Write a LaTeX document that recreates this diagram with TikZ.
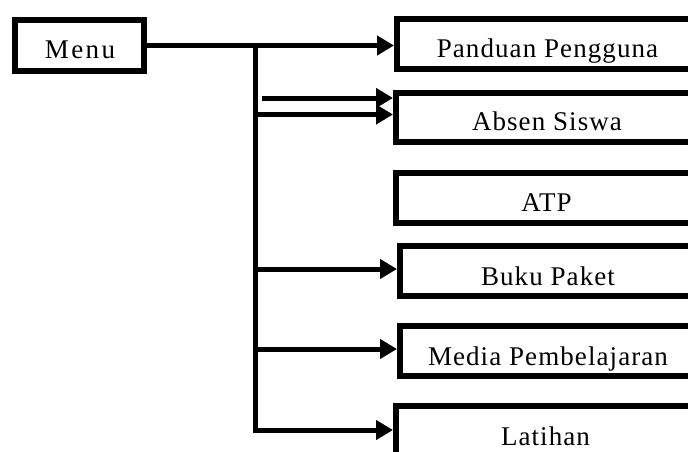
\documentclass[tikz,border=0pt]{standalone}
\usepackage{fontspec}
\setmainfont{Liberation Serif}[LetterSpace=4]
\usetikzlibrary{arrows.meta}
\begin{document}
\begin{tikzpicture}[x=1pt,y=-1pt,
  box/.style={draw=black, line width=6pt, fill=white, rectangle, inner sep=0pt},
  lbl/.style={anchor=base, font=\fontsize{27}{31}\selectfont, inner sep=0pt},
  conn/.style={line width=5pt, -{Triangle[length=17pt,width=19pt]}},
]
\useasboundingbox (0,0) rectangle (688,452);
\clip (0,0) rectangle (688,452);
\fill[white] (0,0) rectangle (688,452);
% boxes
\node[box, minimum width=129pt, minimum height=51pt] (menu) at (79.5,45.5) {};
\node[box, minimum width=303pt, minimum height=50pt] (pand) at (548.5,44) {};
\node[box, minimum width=304pt, minimum height=49pt] (abs) at (548,117.5) {};
\node[box, minimum width=304pt, minimum height=50pt] (atp) at (548,198) {};
\node[box, minimum width=300pt, minimum height=50pt] (buku) at (550,271) {};
\node[box, minimum width=300pt, minimum height=50pt] (media) at (550,351) {};
\node[box, minimum width=304pt, minimum height=64pt] (lat) at (548,438) {};
% labels
\node[lbl] (tmenu) at (80,58.5) {\addfontfeature{LetterSpace=9}Menu};
\node[lbl] (tpand) at (547.5,58) {Panduan Pengguna};
\node[lbl] (tabs) at (547,130) {Absen Siswa};
\node[lbl] (tatp) at (546.5,211.5) {ATP};
\node[lbl] (tbuku) at (548,285) {Buku Paket};
\node[lbl] (tmedia) at (548,365) {Media Pembelajaran};
\node[lbl] (tlat) at (545.5,445) {Latihan};
% junctions
\coordinate (jt) at (255,45.5);
\coordinate (jb) at (255,430);
\coordinate (s1) at (262,98);
\coordinate (j2) at (255,114.5);
\coordinate (j3) at (255,269);
\coordinate (j4) at (255,349);
% connectors
\draw[conn] (menu.east) -- (menu.east -| pand.west);
\draw[conn] (jt) -- (jb) -- (jb -| lat.west);
\draw[conn] (s1) -- (s1 -| abs.west);
\draw[conn] (j2) -- (j2 -| abs.west);
\draw[conn] (j3) -- (j3 -| buku.west);
\draw[conn] (j4) -- (j4 -| media.west);
\end{tikzpicture}
\end{document}
